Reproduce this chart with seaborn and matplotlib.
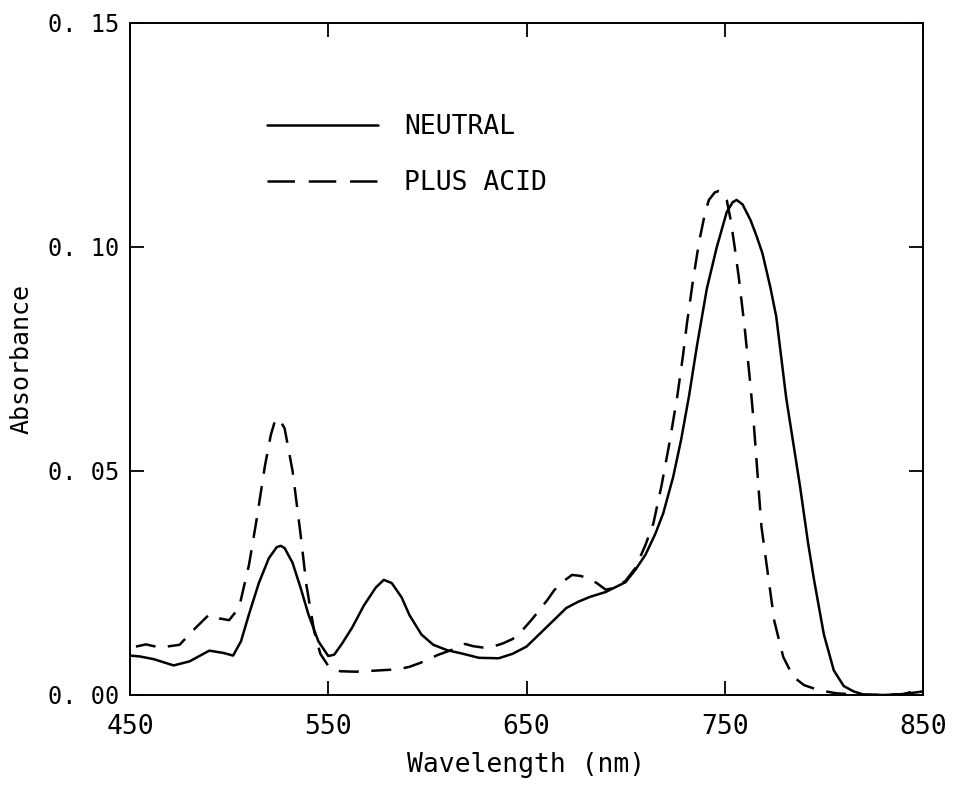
import matplotlib
matplotlib.use("Agg")
import matplotlib.pyplot as plt
import seaborn as sns
import pandas as pd

neutral_wl = [450, 455, 462, 472, 480, 490, 497, 502, 506, 510, 515, 520, 524, 526, 528, 532,
              536, 540, 545, 550, 553, 557, 562, 568, 574, 578, 582, 587, 591, 597, 603, 610,
              618, 626, 636, 643, 650, 657, 664, 670, 676, 682, 690, 700, 705, 710, 715, 719,
              724, 728, 732, 736, 741, 746, 751, 754, 756, 759, 763, 766, 769, 773, 776, 781,
              785, 788, 792, 795, 800, 805, 810, 815, 820, 830, 840, 850]
neutral_abs = [0.0088, 0.0086, 0.0080, 0.0066, 0.0075, 0.0099, 0.0094, 0.0088, 0.0120, 0.0180,
               0.0250, 0.0305, 0.0330, 0.0333, 0.0328, 0.0295, 0.0240, 0.0180, 0.0120, 0.0087,
               0.0090, 0.0115, 0.0150, 0.0200, 0.0240, 0.0257, 0.0250, 0.0218, 0.0178, 0.0135,
               0.0112, 0.0100, 0.0092, 0.0083, 0.0082, 0.0092, 0.0108, 0.0138, 0.0168, 0.0194,
               0.0208, 0.0219, 0.0230, 0.0252, 0.0280, 0.0313, 0.0360, 0.0406, 0.0487, 0.0570,
               0.0668, 0.0780, 0.0908, 0.1000, 0.1078, 0.1100, 0.1105, 0.1095, 0.1060, 0.1025,
               0.0986, 0.0910, 0.0844, 0.0663, 0.0550, 0.0465, 0.0340, 0.0258, 0.0135, 0.0055,
               0.0020, 0.0008, 0.0001, 0.0000, 0.0002, 0.0008]

acid_wl = [453, 458, 465, 475, 482, 490, 495, 500, 505, 510, 514, 518, 521, 523, 525, 528, 532,
           536, 539, 543, 546, 550, 556, 564, 572, 580, 586, 591, 596, 601, 605, 610, 615, 619,
           623, 628, 633, 638, 643, 648, 652, 657, 661, 664, 668, 673, 677, 682, 686, 690, 695,
           700, 705, 710, 714, 718, 722, 726, 729, 731, 734, 737, 740, 742, 745, 747, 749, 751,
           753, 755, 757, 760, 763, 764.5, 766, 768.5, 772, 775, 779.5, 784.5, 790, 796, 801,
           806, 815, 830, 840, 845, 850]
acid_abs = [0.0108, 0.0113, 0.0106, 0.0112, 0.0145, 0.0180, 0.0171, 0.0167, 0.0195, 0.0290,
            0.0395, 0.0510, 0.0580, 0.0610, 0.0618, 0.0595, 0.0500, 0.0360, 0.0245, 0.0140,
            0.0092, 0.0065, 0.0053, 0.0052, 0.0054, 0.0056, 0.0058, 0.0063, 0.0071, 0.0080,
            0.0089, 0.0097, 0.0105, 0.0114, 0.0109, 0.0106, 0.0108, 0.0115, 0.0125, 0.0145,
            0.0165, 0.0192, 0.0215, 0.0234, 0.0252, 0.0268, 0.0266, 0.0260, 0.0248, 0.0235,
            0.0240, 0.0255, 0.0284, 0.0335, 0.0383, 0.0465, 0.0560, 0.0665, 0.0760, 0.0832,
            0.0926, 0.1010, 0.1075, 0.1105, 0.1122, 0.1125, 0.1122, 0.1105, 0.1060, 0.1000,
            0.0935, 0.0822, 0.0690, 0.0614, 0.0525, 0.0376, 0.0262, 0.0165, 0.0085, 0.0041,
            0.0022, 0.0013, 0.0008, 0.0004, 0.0001, 0.0000, 0.0002, 0.0008, 0.0010]

series_names = ["NEUTRAL", "PLUS ACID"]
x_ticks = [450, 550, 650, 750, 850]
y_ticks = [0.00, 0.05, 0.10, 0.15]

df = pd.concat([
    pd.DataFrame({"Wavelength": neutral_wl, "Absorbance": neutral_abs, "Sample": series_names[0]}),
    pd.DataFrame({"Wavelength": acid_wl, "Absorbance": acid_abs, "Sample": series_names[1]}),
], ignore_index=True)

sns.set_style("ticks")
plt.rcParams['font.family'] = ['DejaVu Sans Mono', 'DejaVu Sans']
plt.rcParams['text.color'] = 'black'
plt.rcParams['axes.labelcolor'] = 'black'
plt.rcParams['xtick.color'] = 'black'
plt.rcParams['ytick.color'] = 'black'

fig = plt.figure(figsize=(9.55, 7.87), dpi=100)
ax = fig.add_axes([130 / 955, 92 / 787, 793 / 955, 672 / 787])

sns.lineplot(data=df, x="Wavelength", y="Absorbance", style="Sample",
             dashes={series_names[0]: "", series_names[1]: (8, 5)},
             color="black", linewidth=1.8, ax=ax, sort=False, estimator=None)

ax.set_xlim(450, 850)
ax.set_ylim(0, 0.15)
ax.set_xticks(x_ticks)
ax.set_xticklabels([str(t) for t in x_ticks])
ax.set_yticks(y_ticks)
ax.set_yticklabels([f"{t:.2f}".replace(".", ". ") for t in y_ticks])
ax.tick_params(axis="x", direction="in", length=10, width=1.3, top=True, labelsize=19, pad=14,
               colors="black")
ax.tick_params(axis="y", direction="in", length=10, width=1.3, right=True, labelsize=17, pad=8,
               colors="black")
for s in ax.spines.values():
    s.set_linewidth(1.4)
    s.set_color("black")
    s.set_visible(True)

ax.set_xlabel("Wavelength (nm)", fontsize=19, labelpad=8, color="black")
ax.set_ylabel("Absorbance", fontsize=18, labelpad=10, color="black")

handles, labels = ax.get_legend_handles_labels()
leg = ax.legend(handles, labels, loc="upper left", bbox_to_anchor=(0.143, 0.90),
                frameon=False, fontsize=19, handlelength=4.2, handletextpad=1.0,
                labelspacing=1.15)
for line in leg.get_lines():
    line.set_linewidth(1.8)
leg.get_lines()[1].set_dashes((11, 5.5))
for t in leg.get_texts():
    t.set_color("black")

fig.savefig("out.png", dpi=100)
